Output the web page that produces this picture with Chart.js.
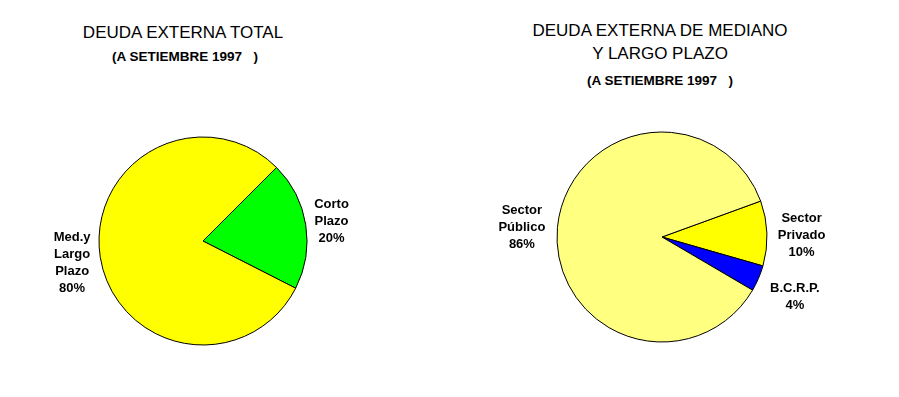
<!DOCTYPE html>
<html>
<head>
<meta charset="utf-8">
<script src="https://cdn.jsdelivr.net/npm/chart.js@4.4.0/dist/chart.umd.min.js"></script>
<style>
  body { margin: 0; background: #fff; }
  #page { position: relative; width: 899px; height: 397px; overflow: hidden; font-family: "Liberation Sans", Arial, sans-serif; }
  canvas { position: absolute; top: 0; }
  .title { position: absolute; text-align: center; color: #000; white-space: pre; line-height: 1; }
  .big { font-size: 17px; }
  .small { font-size: 13.5px; font-weight: bold; }
</style>
</head>
<body>
<div id="page">
  <div class="title big" style="left:33px; width:300px; top:24px;">DEUDA EXTERNA TOTAL</div>
  <div class="title small" style="left:35px; width:300px; top:50px;">(A SETIEMBRE 1997   )</div>
  <div class="title big" style="left:510px; width:300px; top:22px;">DEUDA EXTERNA DE MEDIANO</div>
  <div class="title big" style="left:510px; width:300px; top:45px;">Y LARGO PLAZO</div>
  <div class="title small" style="left:510px; width:300px; top:74px;">(A SETIEMBRE 1997   )</div>
  <canvas id="totalChart" width="406" height="397" style="left:0px;"></canvas>
  <canvas id="plazoChart" width="416" height="397" style="left:454px;"></canvas>
</div>
<script>
// deuda externa total
const totalLabels = [["Corto", "Plazo"], ["Med.y", "Largo", "Plazo"]];
const totalValues = [20, 80];
const totalColors = ["#00ff00", "#ffff00"];

// mediano y largo plazo
const plazoLabels = [["Sector", "Privado"], ["B.C.R.P."], ["Sector", "Público"]];
const plazoValues = [10, 4, 86];
const plazoColors = ["#ffff00", "#0000ff", "#ffff80"];

const LINE_H = 17;

// labels outside each slice, lines + percent
const sliceLabels = {
  id: "sliceLabels",
  afterDatasetsDraw(chart, args, opts) {
    const ctx = chart.ctx;
    const meta = chart.getDatasetMeta(0);
    const values = chart.data.datasets[0].data;
    ctx.save();
    ctx.font = 'bold 13px "Liberation Sans", Arial, sans-serif';
    ctx.fillStyle = "#000";
    ctx.textAlign = "center";
    ctx.textBaseline = "middle";
    meta.data.forEach((arc, i) => {
      const p = arc.getProps(["x", "y", "startAngle", "endAngle", "outerRadius"], true);
      const mid = (p.startAngle + p.endAngle) / 2;
      const text = chart.data.labels[i].concat([values[i] + "%"]);
      const w = Math.max(...text.map((t) => ctx.measureText(t).width));
      const h = text.length * LINE_H;
      const d = p.outerRadius + opts.gap + (w / 2) * Math.abs(Math.cos(mid)) + (h / 2) * Math.abs(Math.sin(mid));
      const cx = p.x + d * Math.cos(mid);
      const cy = p.y + d * Math.sin(mid) + opts.shift;
      text.forEach((t, k) => ctx.fillText(t, cx, cy - h / 2 + LINE_H * (k + 0.5)));
    });
    ctx.restore();
  },
};

function makeConfig(labels, values, colors, rotation, radius, padding, gap, shift) {
  return {
    type: "pie",
    data: {
      labels: labels,
      datasets: [
        {
          data: values,
          backgroundColor: colors,
          borderColor: "#000",
          borderWidth: 1,
          radius: radius,
        },
      ],
    },
    options: {
      responsive: false,
      animation: false,
      rotation: rotation,
      layout: { padding: padding },
      plugins: {
        legend: { display: false },
        tooltip: { enabled: false },
        sliceLabels: { gap: gap, shift: shift },
      },
    },
    plugins: [sliceLabels],
  };
}

new Chart(
  document.getElementById("totalChart"),
  makeConfig(totalLabels, totalValues, totalColors, 45, 104, { top: 137, bottom: 52, left: 0, right: 0 }, 5, 1)
);
new Chart(
  document.getElementById("plazoChart"),
  makeConfig(plazoLabels, plazoValues, plazoColors, 70, 105, { top: 132, bottom: 55, left: 0, right: 0 }, 10, 3)
);
</script>
</body>
</html>
